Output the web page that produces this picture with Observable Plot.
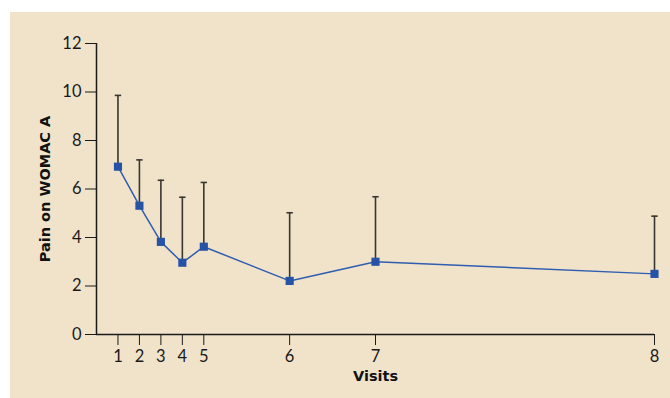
<!DOCTYPE html>
<html>
<head>
<meta charset="utf-8">
<script src="https://cdn.jsdelivr.net/npm/d3@7"></script>
<script src="https://cdn.jsdelivr.net/npm/@observablehq/plot@0.6"></script>
<style>
  html, body { margin: 0; padding: 0; background: #ffffff; }
  #chart { position: absolute; left: 10px; top: 12px; width: 660px; height: 386px; background: #f1e3ca; }
  #chart svg { display: block; }
</style>
</head>
<body>
<div id="chart"></div>
<script>
// Visit labels and their position along the time axis
const visits = [1, 2, 3, 4, 5, 6, 7, 8];
const visitTimes = [0, 1, 2, 3, 4, 8, 12, 25];
// Mean pain on WOMAC A and upper end of the error bar
const meanPain = [6.92, 5.31, 3.82, 2.96, 3.62, 2.21, 3.00, 2.50];
const upperPain = [9.86, 7.20, 6.36, 5.66, 6.27, 5.02, 5.68, 4.88];
const yTicks = [0, 2, 4, 6, 8, 10, 12];

const data = visits.map((v, i) => ({visit: v, t: visitTimes[i], mean: meanPain[i], upper: upperPain[i]}));

const capSymbol = {
  draw(context, size) {
    context.moveTo(-3.2, 0);
    context.lineTo(3.2, 0);
  }
};

const font = "Lato, 'Open Sans', sans-serif";
const titleFont = "'DejaVu Sans', sans-serif";

const plot = Plot.plot({
  width: 660,
  height: 386,
  marginLeft: 86,
  marginTop: 31,
  marginBottom: 64,
  marginRight: 16,
  style: {background: "transparent", fontFamily: font, fontSize: "16px", color: "#1a1a1a"},
  x: {domain: [-1, 25], axis: null},
  y: {domain: [0, 12], axis: null},
  marks: [
    Plot.axisY({ticks: yTicks, tickSize: 11, tickPadding: 4, label: null, fontSize: 16.5}),
    Plot.axisX({ticks: visitTimes, tickFormat: (d) => visits[visitTimes.indexOf(d)], tickSize: 11, tickPadding: 5, label: null, fontSize: 16.5}),
    Plot.ruleX([-1], {y1: 0, y2: 12, stroke: "#1a1a1a", strokeWidth: 1.5}),
    Plot.ruleY([0], {x1: -1, x2: 25, stroke: "#1a1a1a", strokeWidth: 1.5}),
    Plot.ruleX(data, {x: "t", y1: "mean", y2: "upper", stroke: "#3a3630", strokeWidth: 1.6}),
    Plot.dot(data, {x: "t", y: "upper", symbol: capSymbol, stroke: "#3a3630", strokeWidth: 1.6, fill: "none", r: 3}),
    Plot.line(data, {x: "t", y: "mean", stroke: "#2f5db0", strokeWidth: 1.5}),
    Plot.dot(data, {x: "t", y: "mean", symbol: "square", r: 4.6, fill: "#2653a6", stroke: "none"}),
    Plot.text(["Pain on WOMAC A"], {frameAnchor: "left", textAnchor: "middle", dx: -51, rotate: -90, fontFamily: titleFont, fontWeight: "bold", fontSize: 14.5, fill: "#111"}),
    Plot.text(["Visits"], {frameAnchor: "bottom", dy: 46, fontFamily: titleFont, fontWeight: "bold", fontSize: 14.5, fill: "#111"})
  ]
});

document.getElementById("chart").appendChild(plot);
</script>
</body>
</html>
